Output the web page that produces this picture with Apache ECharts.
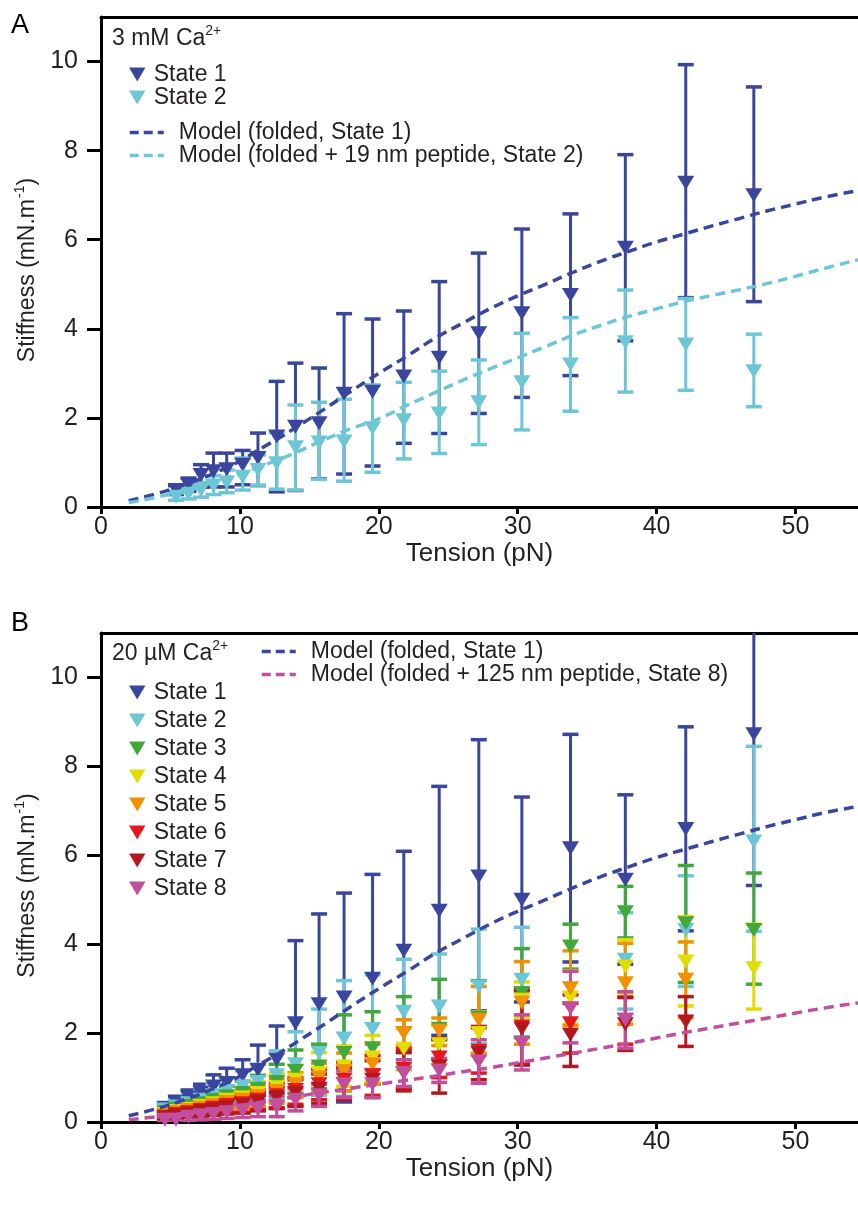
<!DOCTYPE html>
<html>
<head>
<meta charset="utf-8">
<script src="https://cdn.jsdelivr.net/npm/echarts@6/dist/echarts.min.js"></script>
<style>
html,body{margin:0;padding:0;background:#fff;}
#chart{width:858px;height:1208px;}
</style>
</head>
<body>
<div id="chart"></div>
<script>
// ---------------- DATA ----------------
// Panel A (3 mM Ca2+)
const tensionA = [5.4, 6.3, 7.2, 8.1, 9.05, 10.2, 11.3, 12.65, 14.0, 15.7, 17.5, 19.55, 21.8, 24.35, 27.2, 30.3, 33.8, 37.75, 42.1, 47.0];
const a1Mean = [0.38, 0.50, 0.72, 0.80, 0.85, 0.95, 1.10, 1.58, 1.80, 1.88, 2.54, 2.59, 2.93, 3.35, 3.90, 4.35, 4.76, 5.82, 7.28, 7.00];
const a1Lo   = [0.28, 0.35, 0.45, 0.45, 0.45, 0.50, 0.48, 0.34, 0.37, 0.63, 0.74, 0.92, 1.43, 1.65, 2.10, 2.46, 2.95, 3.73, 4.70, 4.61];
const a1Hi   = [0.48, 0.65, 0.95, 1.21, 1.21, 1.27, 1.66, 2.82, 3.23, 3.12, 4.34, 4.22, 4.40, 5.06, 5.70, 6.24, 6.58, 7.91, 9.93, 9.43];
const a2Mean = [0.23, 0.30, 0.38, 0.48, 0.55, 0.68, 0.83, 0.98, 1.34, 1.45, 1.47, 1.77, 1.95, 2.10, 2.35, 2.80, 3.20, 3.70, 3.65, 3.05];
const a2Lo   = [0.15, 0.18, 0.22, 0.28, 0.32, 0.38, 0.49, 0.40, 0.38, 0.62, 0.58, 0.78, 1.08, 1.20, 1.40, 1.73, 2.15, 2.58, 2.62, 2.25];
const a2Hi   = [0.32, 0.42, 0.55, 0.70, 0.83, 1.10, 1.17, 1.67, 2.29, 2.35, 2.42, 2.74, 2.80, 3.05, 3.30, 3.90, 4.25, 4.87, 4.68, 3.88];

// Model curves (tension, stiffness)
const modelT      = [2, 4, 6, 8, 10, 11, 12, 13, 14, 16, 18, 20, 22, 24, 26, 28, 30, 32, 34, 36, 38, 40, 42, 44, 46, 48, 50, 52, 54.5];
const modelState1 = [0.14, 0.30, 0.50, 0.74, 1.03, 1.22, 1.40, 1.58, 1.78, 2.18, 2.60, 3.00, 3.38, 3.78, 4.12, 4.45, 4.74, 5.00, 5.27, 5.52, 5.74, 5.95, 6.13, 6.31, 6.48, 6.65, 6.80, 6.95, 7.10];
const modelPep19  = [0.10, 0.22, 0.38, 0.55, 0.75, 0.86, 0.97, 1.09, 1.22, 1.50, 1.76, 1.98, 2.28, 2.56, 2.84, 3.10, 3.35, 3.60, 3.86, 4.08, 4.28, 4.45, 4.61, 4.75, 4.88, 5.02, 5.18, 5.35, 5.55];
const modelPep125 = [0.05, 0.12, 0.20, 0.28, 0.37, 0.42, 0.47, 0.52, 0.57, 0.67, 0.76, 0.85, 0.94, 1.03, 1.13, 1.22, 1.33, 1.44, 1.55, 1.66, 1.77, 1.89, 2.01, 2.12, 2.23, 2.34, 2.45, 2.56, 2.68];

// Panel B (20 uM Ca2+)
const tensionB = [4.6, 5.4, 6.3, 7.2, 8.1, 9.05, 10.2, 11.3, 12.65, 14.0, 15.7, 17.5, 19.55, 21.8, 24.35, 27.2, 30.3, 33.8, 37.75, 42.1, 47.0];
const b1Mean = [0.32, 0.45, 0.55, 0.65, 0.80, 0.88, 1.05, 1.17, 1.40, 2.22, 2.65, 2.80, 3.22, 3.85, 4.75, 5.52, 5.00, 6.16, 5.45, 6.59, 8.72];
const b1Lo   = [0.22, 0.32, 0.38, 0.40, 0.50, 0.55, 0.70, 0.60, 0.65, 0.36, 0.60, 0.45, 0.85, 1.60, 1.95, 2.50, 2.70, 3.60, 3.55, 4.30, 5.32];
const b1Hi   = [0.42, 0.58, 0.72, 0.85, 1.06, 1.21, 1.40, 1.73, 2.16, 4.08, 4.68, 5.15, 5.57, 6.09, 7.55, 8.60, 7.31, 8.72, 7.36, 8.89, 12.1];
const b2Mean = [0.28, 0.35, 0.42, 0.50, 0.60, 0.70, 0.80, 0.90, 1.05, 1.30, 1.55, 1.88, 2.09, 2.48, 2.60, 3.05, 3.20, null, 3.65, 4.32, 6.31];
const b2Lo   = [0.15, 0.20, 0.25, 0.30, 0.35, 0.40, 0.45, 0.50, 0.50, 0.55, 0.60, 0.58, 0.87, 1.30, 1.42, 1.76, 1.92, null, 2.54, 3.05, 4.29];
const b2Hi   = [0.40, 0.50, 0.60, 0.70, 0.85, 1.00, 1.15, 1.30, 1.60, 2.03, 2.54, 3.18, 3.31, 3.66, 3.78, 4.34, 4.38, null, 4.71, 5.54, 8.45];
const b3Mean = [0.22, 0.30, 0.36, 0.42, 0.50, 0.58, 0.65, 0.75, 0.90, 1.15, 1.25, 1.55, 1.66, 2.00, 2.10, 2.35, 2.90, 3.95, 4.72, 4.47, 4.32];
const b3Lo   = [0.12, 0.18, 0.22, 0.26, 0.30, 0.35, 0.40, 0.45, 0.45, 0.65, 0.75, 0.70, 0.85, 1.18, 1.00, 1.50, 1.90, 3.44, 4.14, 3.14, 3.10];
const b3Hi   = [0.32, 0.42, 0.50, 0.58, 0.68, 0.80, 0.92, 1.05, 1.30, 1.62, 1.75, 2.41, 2.48, 2.82, 3.21, 3.18, 3.90, 4.45, 5.30, 5.77, 5.60];
const b4Mean = [0.18, 0.25, 0.30, 0.36, 0.42, 0.50, 0.55, 0.65, 0.78, 0.95, 1.10, 1.25, 1.45, 1.65, 1.75, 2.00, 2.75, 2.80, 3.50, 3.61, 3.46];
const b4Lo   = [0.10, 0.15, 0.18, 0.22, 0.26, 0.30, 0.33, 0.40, 0.45, 0.60, 0.65, 0.80, 0.90, 1.20, 1.30, 1.50, 2.35, 2.20, 2.90, 2.61, 2.54];
const b4Hi   = [0.28, 0.36, 0.42, 0.50, 0.58, 0.68, 0.78, 0.90, 1.10, 1.28, 1.56, 1.71, 1.95, 2.11, 2.18, 2.48, 3.15, 3.40, 4.10, 4.62, 4.45];
const b5Mean = [0.15, 0.22, 0.27, 0.32, 0.38, 0.45, 0.50, 0.58, 0.70, 0.85, 1.00, 1.15, 1.30, 2.00, 2.05, 2.30, 2.68, 3.01, 3.12, 3.20, null];
const b5Lo   = [0.08, 0.12, 0.15, 0.20, 0.22, 0.27, 0.30, 0.35, 0.42, 0.55, 0.65, 0.70, 0.85, 1.71, 1.72, 1.55, 1.75, 2.17, 2.20, 2.35, null];
const b5Hi   = [0.24, 0.32, 0.38, 0.45, 0.52, 0.62, 0.70, 0.82, 0.98, 1.11, 1.32, 1.55, 1.75, 2.30, 2.34, 3.05, 3.61, 3.85, 4.02, 4.05, null];
const b6Mean = [0.12, 0.18, 0.22, 0.27, 0.32, 0.38, 0.42, 0.50, 0.60, 0.72, 0.85, 0.95, 1.05, 1.20, 1.45, 1.60, 2.15, 2.22, 2.30, null, null];
const b6Lo   = [0.05, 0.10, 0.12, 0.15, 0.18, 0.22, 0.22, 0.28, 0.32, 0.40, 0.50, 0.55, 0.60, 0.75, 1.00, 1.10, 1.30, 1.55, 1.75, null, null];
const b6Hi   = [0.20, 0.27, 0.33, 0.40, 0.46, 0.55, 0.62, 0.72, 0.88, 1.00, 1.18, 1.35, 1.50, 1.65, 1.88, 2.12, 2.99, 2.86, 2.81, null, null];
const b7Mean = [0.10, 0.15, 0.19, 0.24, 0.28, 0.33, 0.38, 0.45, 0.55, 0.65, 0.75, 0.85, 0.95, 1.10, 1.25, 1.55, 2.10, 1.96, 2.20, 2.26, null];
const b7Lo   = [0.04, 0.08, 0.10, 0.13, 0.15, 0.18, 0.20, 0.25, 0.30, 0.35, 0.42, 0.50, 0.55, 0.70, 0.65, 0.95, 1.28, 1.25, 1.61, 1.70, null];
const b7Hi   = [0.17, 0.23, 0.30, 0.36, 0.42, 0.50, 0.57, 0.66, 0.80, 0.95, 1.08, 1.22, 1.38, 1.56, 1.85, 2.15, 2.95, 2.67, 2.80, 2.82, null];
const b8Mean = [0.05, 0.05, 0.12, 0.15, 0.18, 0.22, 0.26, 0.30, 0.35, 0.50, 0.60, 0.85, 0.85, 1.10, 1.16, 1.36, 1.77, 2.56, 2.30, null, null];
const b8Lo   = [0.00, -0.05, 0.02, 0.05, 0.06, 0.08, 0.10, 0.12, 0.12, 0.25, 0.35, 0.55, 0.55, 0.80, 0.89, 0.87, 1.17, 1.78, 1.66, null, null];
const b8Hi   = [0.12, 0.15, 0.22, 0.26, 0.30, 0.36, 0.42, 0.48, 0.58, 0.75, 0.85, 1.15, 1.18, 1.40, 1.43, 1.85, 2.41, 3.39, 2.93, null, null];

const xTicks = [0, 10, 20, 30, 40, 50];
const yTicks = [0, 2, 4, 6, 8, 10];
const stateNames = ['State 1','State 2','State 3','State 4','State 5','State 6','State 7','State 8'];

// ---------------- STYLE ----------------
const colors = ['#3a469d', '#6dc6d6', '#40a93a', '#e2dc00', '#f29000', '#e4181c', '#b4181e', '#c14f9d'];
const txt = '#231f20';
const FONT = 'Liberation Sans';
const TICKFS = 25;
const LEGFS = 23;
const TRI = 'path://M0,0L20,0L10,17Z';

function zip3(t, lo, hi) {
  const out = [];
  for (let i = 0; i < t.length; i++) if (lo[i] != null) out.push([t[i], lo[i], hi[i]]);
  return out;
}
function zip2(t, v) {
  const out = [];
  for (let i = 0; i < t.length; i++) if (v[i] != null) out.push([t[i], v[i]]);
  return out;
}
function errRender(color) {
  return function (params, api) {
    const x = api.value(0), lo = api.value(1), hi = api.value(2);
    const a = api.coord([x, lo]), b = api.coord([x, hi]);
    const cap = 8;
    return {
      type: 'group',
      children: [
        {type: 'line', shape: {x1: a[0], y1: a[1], x2: b[0], y2: b[1]}, style: {stroke: color, lineWidth: 3}},
        {type: 'line', shape: {x1: b[0]-cap, y1: b[1], x2: b[0]+cap, y2: b[1]}, style: {stroke: color, lineWidth: 3.5}},
        {type: 'line', shape: {x1: a[0]-cap, y1: a[1], x2: a[0]+cap, y2: a[1]}, style: {stroke: color, lineWidth: 3.5}}
      ]
    };
  };
}
function errSeries(id, gi, t, lo, hi, color) {
  return {
    type: 'custom', name: id, xAxisIndex: gi*2, yAxisIndex: gi, clip: true,
    renderItem: errRender(color), encode: {x: 0, y: [1, 2]},
    data: zip3(t, lo, hi), silent: true
  };
}
function ptSeries(name, gi, t, m, color) {
  return {
    type: 'scatter', name: name, xAxisIndex: gi*2, yAxisIndex: gi,
    symbol: TRI, symbolSize: [17, 14], clip: true,
    itemStyle: {color: color, opacity: 1},
    data: zip2(t, m), silent: true
  };
}
function modelSeries(name, gi, v, color) {
  return {
    type: 'line', name: name, xAxisIndex: gi*2, yAxisIndex: gi,
    data: zip2(modelT, v), smooth: true, symbol: 'none', showSymbol: false,
    lineStyle: {color: color, width: 3.5, type: [10, 6]},
    itemStyle: {color: color}, silent: true, z: 5
  };
}

function xAxisPair(gi) {
  return [{
    type: 'value', gridIndex: gi, min: 0, max: 54.5, position: 'bottom',
    name: 'Tension (pN)', nameLocation: 'middle', nameGap: 31,
    nameTextStyle: {fontSize: 26, color: txt, fontFamily: FONT},
    axisLine: {show: true, onZero: false, lineStyle: {color: '#000', width: 3}},
    axisTick: {show: true, length: 7, customValues: xTicks, lineStyle: {color: '#000', width: 3}},
    axisLabel: {fontSize: TICKFS, color: txt, margin: 8, fontFamily: FONT, customValues: xTicks},
    splitLine: {show: false}
  }, {
    type: 'value', gridIndex: gi, min: 0, max: 54.5, position: 'top',
    axisLine: {show: true, onZero: false, lineStyle: {color: '#000', width: 3}},
    axisTick: {show: false}, axisLabel: {show: false}, splitLine: {show: false}
  }];
}
function yAxis(gi) {
  return {
    type: 'value', gridIndex: gi, min: 0, max: 11,
    name: '{a|Stiffness (mN.m}{s|-1}{a|)}', nameLocation: 'middle', nameGap: 60, nameRotate: 90,
    nameTextStyle: {
      color: txt, fontFamily: FONT, padding: [0, 16, 0, 0],
      rich: {
        a: {fontSize: 23, color: txt, fontFamily: FONT, lineHeight: 26, verticalAlign: 'bottom'},
        s: {fontSize: 14, color: txt, fontFamily: FONT, lineHeight: 26, verticalAlign: 'top', padding: [0, 0, 0, 1]}
      }
    },
    axisLine: {show: true, onZero: false, lineStyle: {color: '#000', width: 3}},
    axisTick: {show: true, length: 14, customValues: yTicks, lineStyle: {color: '#000', width: 3}},
    axisLabel: {fontSize: TICKFS, color: txt, margin: 23, fontFamily: FONT, customValues: yTicks},
    splitLine: {show: false}
  };
}

const series = [];
series.push(errSeries('errA1', 0, tensionA, a1Lo, a1Hi, colors[0]));
series.push(ptSeries('State 1', 0, tensionA, a1Mean, colors[0]));
series.push(errSeries('errA2', 0, tensionA, a2Lo, a2Hi, colors[1]));
series.push(ptSeries('State 2', 0, tensionA, a2Mean, colors[1]));
series.push(modelSeries('Model (folded, State 1)', 0, modelState1, colors[0]));
series.push(modelSeries('Model (folded + 19 nm peptide, State 2)', 0, modelPep19, colors[1]));

const bMeans = [b1Mean, b2Mean, b3Mean, b4Mean, b5Mean, b6Mean, b7Mean, b8Mean];
const bLos   = [b1Lo, b2Lo, b3Lo, b4Lo, b5Lo, b6Lo, b7Lo, b8Lo];
const bHis   = [b1Hi, b2Hi, b3Hi, b4Hi, b5Hi, b6Hi, b7Hi, b8Hi];
for (let i = 0; i < 8; i++) {
  series.push(errSeries('errB' + (i+1), 1, tensionB, bLos[i], bHis[i], colors[i]));
  series.push(ptSeries(stateNames[i], 1, tensionB, bMeans[i], colors[i]));
}
series.push(modelSeries('Model (folded, State 1)', 1, modelState1, colors[0]));
series.push(modelSeries('Model (folded + 125 nm peptide, State 8)', 1, modelPep125, colors[7]));

const legText = {fontSize: LEGFS, color: txt, fontFamily: FONT};
function triLegend(names, left, top, lh, gap) {
  return {
    orient: 'vertical', left: left, top: top, itemWidth: 17, itemHeight: 14, itemGap: gap,
    selectedMode: false, padding: 0,
    textStyle: Object.assign({lineHeight: lh, padding: [0, 0, 0, 3]}, legText),
    data: names.map(n => ({name: n, icon: TRI}))
  };
}
function lineLegend(names, left, top, lh) {
  return {
    orient: 'vertical', left: left, top: top, itemWidth: 34, itemHeight: 14, itemGap: 0,
    selectedMode: false, padding: 0,
    itemStyle: {opacity: 0},
    lineStyle: {width: 3.5, type: [9, 5]},
    textStyle: Object.assign({lineHeight: lh, padding: [0, 0, 0, 10]}, legText),
    data: names
  };
}

const supRich = {
  a: {fontSize: LEGFS, fill: txt, fontFamily: FONT, lineHeight: 26, verticalAlign: 'bottom'},
  s: {fontSize: 14, fill: txt, fontFamily: FONT, lineHeight: 26, verticalAlign: 'top'}
};

const option = {
  animation: false,
  backgroundColor: '#fff',
  grid: [
    {left: 101, top: 17, width: 757, height: 490},
    {left: 101, top: 633, width: 757, height: 489}
  ],
  xAxis: [].concat(xAxisPair(0), xAxisPair(1)),
  yAxis: [yAxis(0), yAxis(1)],
  legend: [
    triLegend(['State 1', 'State 2'], 129, 63, 21, 0),
    lineLegend(['Model (folded, State 1)', 'Model (folded + 19 nm peptide, State 2)'], 128, 121, 23),
    triLegend(stateNames, 129, 681, 22, 5),
    lineLegend(['Model (folded, State 1)', 'Model (folded + 125 nm peptide, State 8)'], 260, 640, 21)
  ],
  graphic: [
    {type: 'text', left: 11, top: 12, style: {text: 'A', fontSize: 27, fill: '#000', fontFamily: FONT}},
    {type: 'text', left: 11, top: 610, style: {text: 'B', fontSize: 27, fill: '#000', fontFamily: FONT}},
    {type: 'text', left: 112, top: 24, style: {text: '{a|3 mM Ca}{s|2+}', rich: supRich}},
    {type: 'text', left: 112, top: 639, style: {text: '{a|20 µM Ca}{s|2+}', rich: supRich}}
  ],
  series: series
};

const chart = echarts.init(document.getElementById('chart'), null, {renderer: 'canvas'});
chart.setOption(option);
</script>
</body>
</html>
